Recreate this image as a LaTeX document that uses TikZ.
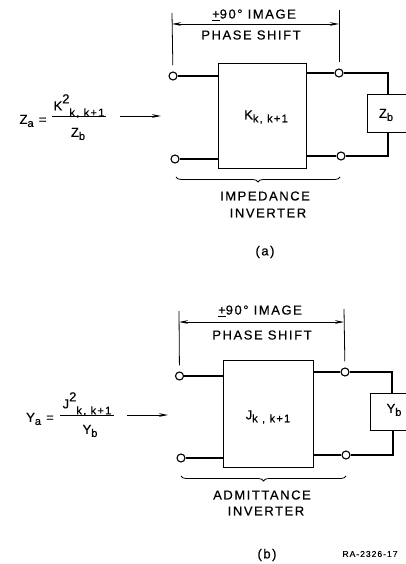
\documentclass[tikz,border=0pt]{standalone}
\usepackage{fontspec}
\setmainfont[LetterSpace=12,FakeBold=0.5]{Liberation Sans}
\usetikzlibrary{arrows.meta,decorations.pathreplacing}
\newcommand{\subsup}[3]{#1\raisebox{7pt}{#2}\raisebox{-6pt}{\fontsize{11}{12}\selectfont #3}}
\newcommand{\subonly}[2]{#1\raisebox{-3pt}{\fontsize{11}{12}\selectfont #2}}
\begin{document}
\begin{tikzpicture}[x=1pt,y=-1pt,>={Stealth[length=9pt,width=3.6pt]},line width=0.9pt,
    every node/.style={font=\fontsize{13}{15}\selectfont,inner sep=0pt},
    terminal/.style={draw,circle,fill=white,minimum size=8pt,line width=1.1pt},
    block/.style={draw,line width=1.2pt,anchor=north west},
    wire/.style={line width=1.3pt},
    dimline/.style={line width=0.8pt,shorten >=6pt},
    bracket/.style={decorate,decoration={brace,mirror,amplitude=5pt},line width=0.8pt}]
  \useasboundingbox (0,0) rectangle (406,564);

  \node[block,minimum width=88pt,minimum height=105pt] (inverterA) at (218,63) {};
  \node[block,minimum width=40pt,minimum height=38pt] (loadA) at (367,94) {};
  \node[terminal] (inTopA) at (173,76) {};
  \node[terminal] (inBotA) at (175,159) {};
  \node[terminal] (outTopA) at (339,73) {};
  \node[terminal] (outBotA) at (341,156) {};
  \draw[wire] (inTopA) -- (inverterA.west |- inTopA);
  \draw[wire] (inBotA) -- (inverterA.west |- inBotA);
  \draw[wire] (inverterA.east |- outTopA) -- (outTopA);
  \draw[wire] (inverterA.east |- outBotA) -- (outBotA);
  \draw[wire] (outTopA) -| (388,94);
  \draw[wire] (outBotA) -| (388,132);
  \coordinate (dimLeftA) at (172,13);
  \coordinate (dimRightA) at (339,10);
  \coordinate (dimStartA) at (172,24);
  \coordinate (dimEndA) at (339,24);
  \coordinate (braceLeftA) at (176,177);
  \coordinate (braceRightA) at (340,177);
  \coordinate (ruleLeftA) at (52,116.5);
  \coordinate (ruleRightA) at (106,116.5);
  \coordinate (lookStartA) at (120,116);
  \coordinate (lookEndA) at (161,116);
  \draw[dimline] (dimLeftA) -- (inTopA);
  \draw[dimline] (dimRightA) -- (outTopA);
  \draw[<->] (dimStartA) -- (dimEndA);
  \draw[bracket] (braceLeftA) -- (braceRightA);
  \draw (ruleLeftA) -- (ruleRightA);
  \draw[->] (lookStartA) -- (lookEndA);
  \node (imageA) at (254,15) {\underline{+}90° IMAGE};
  \node (shiftA) at (251,35) {PHASE SHIFT};
  \node (labelA) at (266,117) {\subonly{K}{k, k+1}};
  \node (labelLoadA) at (386,115) {\subonly{Z}{b}};
  \node (kindA) at (265,196) {IMPEDANCE};
  \node (kindLowA) at (268,213) {INVERTER};
  \node (captionA) at (265,252) {(a)};
  \node (leftA) at (33,121) {\subonly{Z}{a} =};
  \node (numA) at (79,106) {\subsup{K}{2}{k, k+1}};
  \node (denA) at (78,134) {\subonly{Z}{b}};

  \node[block,minimum width=90pt,minimum height=107pt] (inverterB) at (223,360) {};
  \node[block,minimum width=37pt,minimum height=37pt] (loadB) at (370,393) {};
  \node[terminal] (inTopB) at (179.5,376) {};
  \node[terminal] (inBotB) at (181,458) {};
  \node[terminal] (outTopB) at (345,372) {};
  \node[terminal] (outBotB) at (346,455) {};
  \draw[wire] (inTopB) -- (inverterB.west |- inTopB);
  \draw[wire] (inBotB) -- (inverterB.west |- inBotB);
  \draw[wire] (inverterB.east |- outTopB) -- (outTopB);
  \draw[wire] (inverterB.east |- outBotB) -- (outBotB);
  \draw[wire] (outTopB) -| (392,393);
  \draw[wire] (outBotB) -| (393,430);
  \coordinate (dimLeftB) at (179,311);
  \coordinate (dimRightB) at (344,309);
  \coordinate (dimStartB) at (179,322);
  \coordinate (dimEndB) at (344,322);
  \coordinate (braceLeftB) at (181,476);
  \coordinate (braceRightB) at (346,476);
  \coordinate (ruleLeftB) at (60,415);
  \coordinate (ruleRightB) at (114,415);
  \coordinate (lookStartB) at (127,415);
  \coordinate (lookEndB) at (168,415);
  \draw[dimline] (dimLeftB) -- (inTopB);
  \draw[dimline] (dimRightB) -- (outTopB);
  \draw[<->] (dimStartB) -- (dimEndB);
  \draw[bracket] (braceLeftB) -- (braceRightB);
  \draw (ruleLeftB) -- (ruleRightB);
  \draw[->] (lookStartB) -- (lookEndB);
  \node (imageB) at (260,311) {\underline{+}90° IMAGE};
  \node (shiftB) at (262,335) {PHASE SHIFT};
  \node (labelB) at (268,417) {\subonly{J}{k , k+1}};
  \node (labelLoadB) at (394,410) {\subonly{Y}{b}};
  \node (kindB) at (262,495) {ADMITTANCE};
  \node (kindLowB) at (266,511) {INVERTER};
  \node (captionB) at (267,555) {(b)};
  \node (leftB) at (40,419) {\subonly{Y}{a} =};
  \node (numB) at (87,404) {\subsup{J}{2}{k, k+1}};
  \node (denB) at (90,431) {\subonly{Y}{b}};
  \node[font=\fontsize{8.5}{10}\selectfont] (drawingNo) at (370,554) {RA-2326-17};
\end{tikzpicture}
\end{document}
